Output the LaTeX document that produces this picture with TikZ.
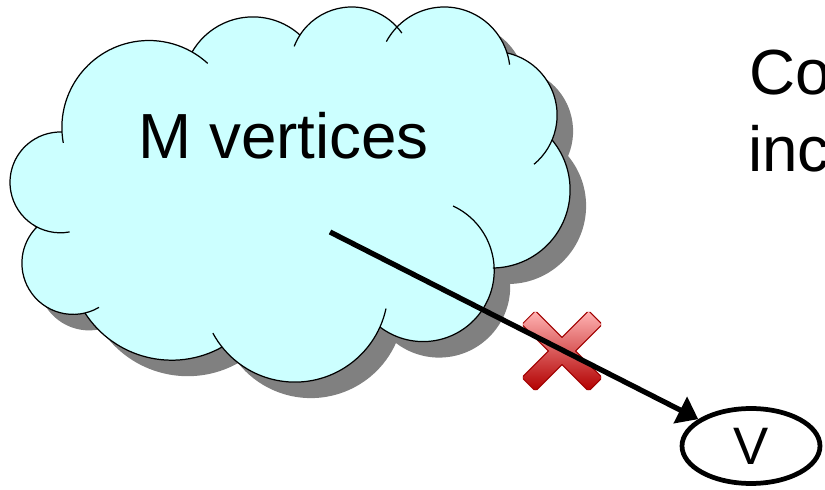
\documentclass[tikz,border=0pt]{standalone}
\usepackage{fontspec}
\setmainfont{Liberation Sans}
\usetikzlibrary{arrows.meta,calc,shapes.geometric}

\definecolor{cloudfill}{HTML}{CCFFFF}
\definecolor{shadowgrey}{HTML}{808080}
\definecolor{crossdark}{HTML}{A00000}

\tikzset{
  big/.style={font=\fontsize{36.3}{43.6}\selectfont, inner sep=0pt},
  vertex/.style={ellipse, draw, line width=2.7pt, minimum width=2.76cm, minimum height=1.5cm, inner sep=0pt, font=\fontsize{30}{36}\selectfont},
  edge/.style={line width=3pt, -{Triangle[length=11.5pt,width=16.5pt]}},
  arm/.style={top color=red!30!white, middle color=red, bottom color=red!70!black},
}

% cx/cy/r/fill from/fill to/line from/line to
\def\puffs{148.9/362.5/87/183/60.3/190.2/47.5,
  252.9/402.9/70.2/150/47.9/150/47.9,
  351.6/421.5/61.5/147/42.4/158.9/35.2,
  444.3/417.2/65.8/135.9/17.5/151.7/7.1,
  493.4/374.8/63.7/77.7/-22.9/77.7/-50.4,
  492/300.1/78.1/39.8/-89.3/39.8/-89.3,
  423.1/219.5/71.1/2/-127.3/65.1/-127.3,
  294.9/201.1/93.2/-24.1/-141.4/-12.2/-151.7,
  171.7/233.1/103.3/-60.8/-147.1/-60.8/-147.1,
  73.1/226.8/51.2/283.4/134.9/300.4/134.9,
  60.4/307.6/50.4/242.3/88.2/280.5/88.2}

\begin{document}
\begin{tikzpicture}[x=0.02cm, y=0.02cm]
    \path[use as bounding box, clip] (0,0) rectangle (825,490);
    \fill[shadowgrey, shift={(16,-16)}] (62,358) \foreach \cx/\cy/\r/\a/\b/\sa/\sb in \puffs {-- ([shift={(\a:\r)}]\cx,\cy) arc[start angle=\a, end angle=\b, radius=\r]} -- cycle;
    \fill[cloudfill] (62,358) \foreach \cx/\cy/\r/\a/\b/\sa/\sb in \puffs {-- ([shift={(\a:\r)}]\cx,\cy) arc[start angle=\a, end angle=\b, radius=\r]} -- cycle;
    \foreach \cx/\cy/\r/\a/\b/\sa/\sb in \puffs
        \draw[line width=0.7pt] ([shift={(\sa:\r)}]\cx,\cy) arc[start angle=\sa, end angle=\sb, radius=\r];
    \node[big, anchor=base west] (mv) at (138,331) {M vertices};
    \node[big, anchor=base west] (co) at (749,395) {Co};
    \node[big, anchor=base west] (inc) at (748,318) {inc};

    \coordinate (xc) at (562,139);
    \foreach \a in {45,-45}
        \draw[crossdark, line width=1.4pt, rounded corners=1pt] ($(xc)+(\a:46.5)+(\a+90:9)$) -- ($(xc)+(\a:46.5)+(\a-90:9)$) -- ($(xc)+(\a+180:46.5)+(\a-90:9)$) -- ($(xc)+(\a+180:46.5)+(\a+90:9)$) -- cycle;
    \foreach \a in {45,-45}
        \shade[arm] ($(xc)+(\a:46.5)+(\a+90:9)$) -- ($(xc)+(\a:46.5)+(\a-90:9)$) -- ($(xc)+(\a+180:46.5)+(\a-90:9)$) -- ($(xc)+(\a+180:46.5)+(\a+90:9)$) -- cycle;

    \coordinate (src) at (330,258);
    \node[vertex] (v) at (751,44) {V};
    \draw[edge] (src) -- (v);
\end{tikzpicture}
\end{document}
